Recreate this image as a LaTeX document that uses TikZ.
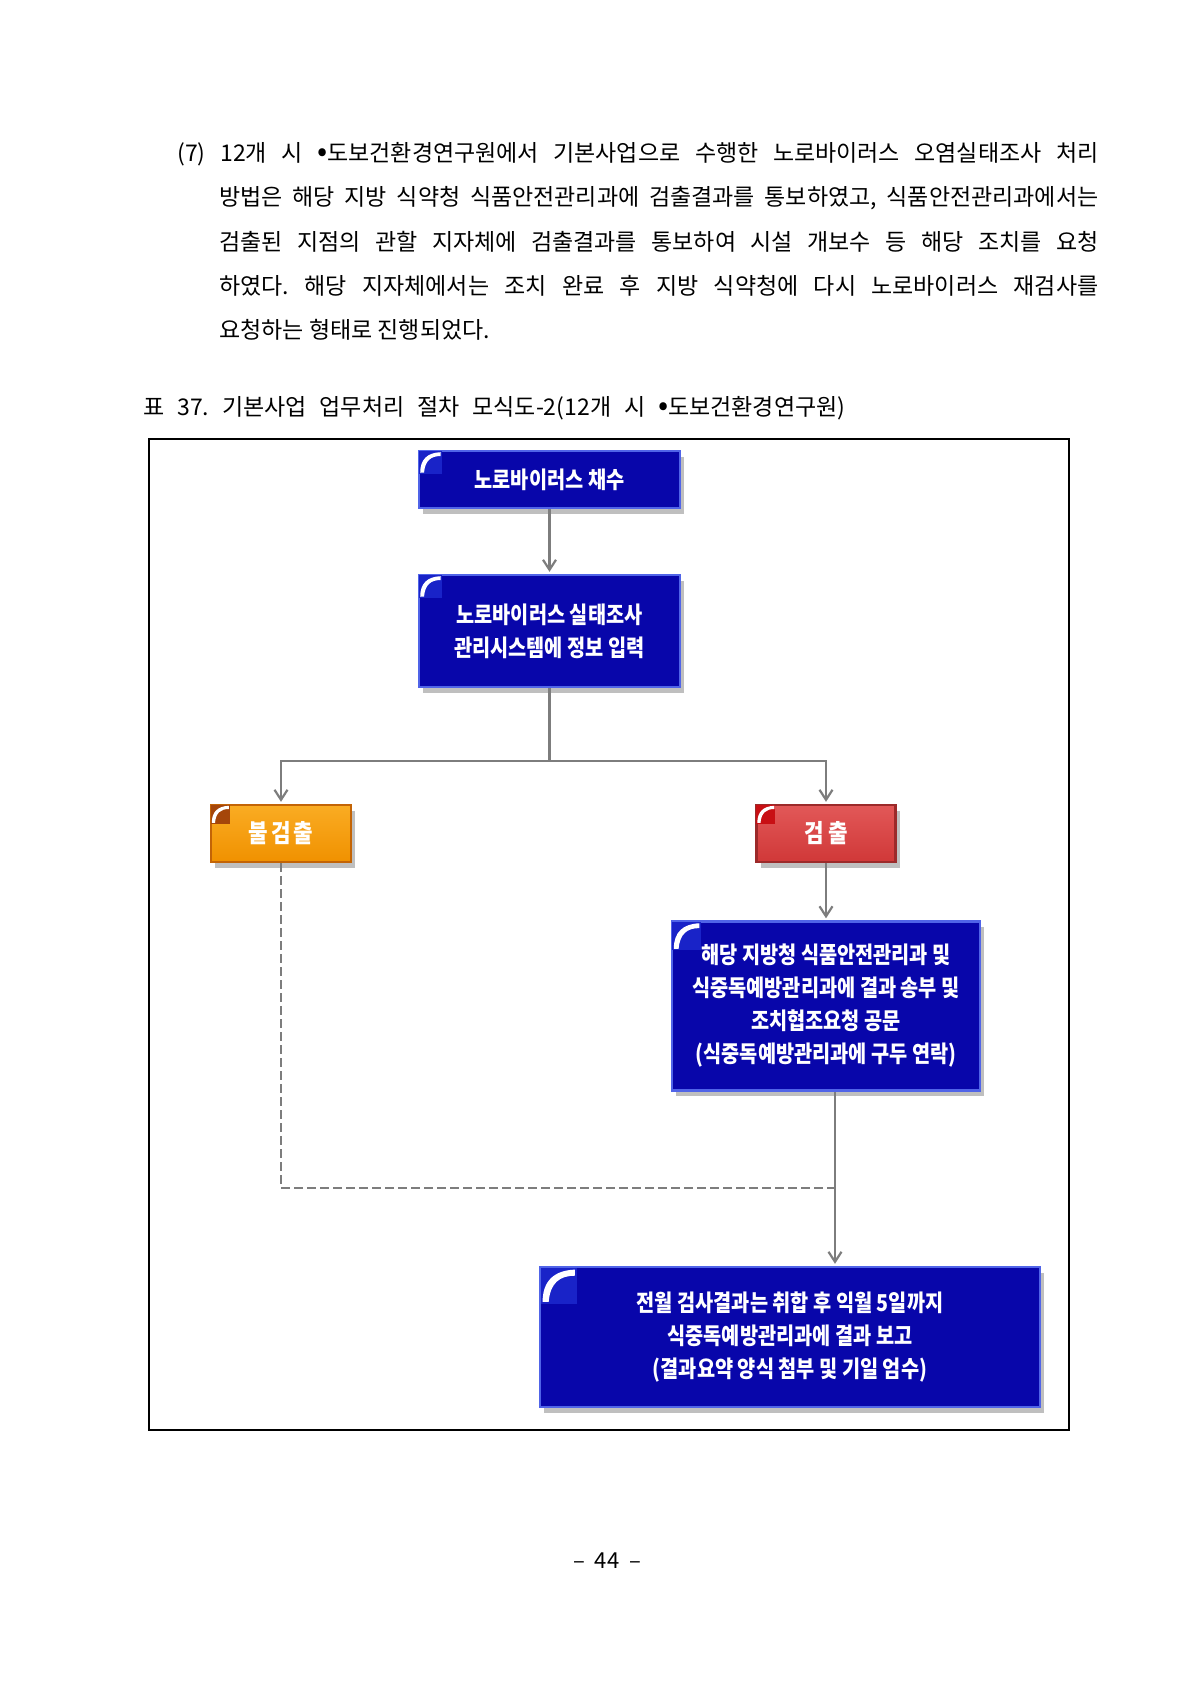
\documentclass[tikz,border=0pt]{standalone}
\usepackage{fontspec}
\setmainfont{Noto Sans CJK KR}
\newfontfamily\boxfont[FakeStretch=0.85]{Noto Sans CJK KR}
\usetikzlibrary{arrows.meta,shadows}
\frenchspacing
\definecolor{boxblue}{RGB}{8,6,170}
\definecolor{boxedge}{RGB}{80,100,232}
\definecolor{cornerblue}{RGB}{25,35,200}
\definecolor{boxorange}{RGB}{240,145,0}
\definecolor{lightorange}{RGB}{250,172,35}
\definecolor{cornerorange}{RGB}{165,70,10}
\definecolor{boxred}{RGB}{208,56,56}
\definecolor{lightred}{RGB}{226,88,88}
\definecolor{cornerred}{RGB}{200,15,20}
\definecolor{flowgray}{RGB}{125,125,125}
\newcommand\dotsep{\scalebox{1.3}{•}}
% corner highlight: node, colour, size in pt
\newcommand\cornermark[3]{%
    \begin{scope}[shift={(#1.north west)},x=#3pt,y=#3pt]
        \fill[#2] (0.05,-0.05) rectangle (1,-1);
        \fill[white] (0.1,-0.95) .. controls (0.1,-0.4) and (0.4,-0.12) .. (0.95,-0.1)
            -- (0.95,-0.26) .. controls (0.55,-0.26) and (0.3,-0.45) .. (0.26,-0.95) -- cycle;
    \end{scope}}
\tikzset{%
    stepbox/.style={%
        rectangle,
        draw,
        line width=1.2pt,
        text=white,
        align=center,
        inner sep=0pt,
        font=\boxfont\bfseries\fontsize{11.6}{16.5}\selectfont,
        drop shadow={shadow xshift=2pt,shadow yshift=-2.8pt,opacity=0.5}
    },
    bluebox/.style={%
        stepbox,
        fill=boxblue,
        draw=boxedge
    },
    orangebox/.style={%
        stepbox,
        top color=lightorange,
        bottom color=boxorange,
        draw=cornerorange!60!boxorange,
        font=\boxfont\bfseries\fontsize{12.5}{15}\selectfont
    },
    redbox/.style={%
        stepbox,
        top color=lightred,
        bottom color=boxred,
        draw=boxred!75!black,
        font=\boxfont\bfseries\fontsize{12.5}{15}\selectfont
    },
    flow/.style={%
        draw=flowgray,
        line width=1.1pt
    },
    flowarrow/.style={%
        flow,
        -{Straight Barb[length=5pt,width=6.5pt]},
        shorten >=1pt
    },
    dashflow/.style={%
        flow,
        line width=1.3pt,
        dash pattern=on 4.5pt off 2pt
    },
    bodyline/.style={%
        anchor=west,
        inner sep=0pt,
        font=\fontsize{11.5}{14}\selectfont
    }
}
\begin{document}
\begin{tikzpicture}[x=0.5pt,y=-0.5pt]
    \useasboundingbox[fill=white] (0,0) rectangle (1190,1684);
    % paragraph
    \node[bodyline] (par1) at (177,154) {\makebox[460.5pt][s]{(7) 12개 시 \dotsep 도보건환경연구원에서 기본사업으로 수행한 노로바이러스 오염실태조사 처리}};
    \node[bodyline] (par2) at (219,198) {\makebox[439.5pt][s]{방법은 해당 지방 식약청 식품안전관리과에 검출결과를 통보하였고, 식품안전관리과에서는}};
    \node[bodyline] (par3) at (219,242) {\makebox[439.5pt][s]{검출된 지점의 관할 지자체에 검출결과를 통보하여 시설 개보수 등 해당 조치를 요청}};
    \node[bodyline] (par4) at (219,286) {\makebox[439.5pt][s]{하였다. 해당 지자체에서는 조치 완료 후 지방 식약청에 다시 노로바이러스 재검사를}};
    \node[bodyline] (par5) at (219,330) {요청하는 형태로 진행되었다.};
    \node[bodyline] (caption) at (143,408) {\makebox[351pt][s]{표 37. 기본사업 업무처리 절차 모식도-2(12개 시 \dotsep 도보건환경연구원)}};
    % frame
    \draw[line width=0.7pt] (149,439) rectangle (1069,1430);
    % boxes
    \node[bluebox, minimum width=130.5pt, minimum height=28.5pt] (sample) at (549.5,479.5) {노로바이러스 채수};
    \node[bluebox, minimum width=130.5pt, minimum height=56pt] (input) at (549.5,631) {노로바이러스 실태조사\\관리시스템에 정보 입력};
    \node[orangebox, minimum width=70pt, minimum height=28.5pt] (nodetect) at (281,833.5) {불\hspace{1.5pt}검\hspace{1.5pt}출};
    \node[redbox, minimum width=69.5pt, minimum height=28.5pt] (detect) at (826,833.5) {검 출};
    \node[bluebox, minimum width=154pt, minimum height=84.5pt] (result) at (826,1006) {해당 지방청 식품안전관리과 및\\식중독예방관리과에 결과 송부 및\\조치협조요청 공문\\(식중독예방관리과에 구두 연락)};
    \node[bluebox, minimum width=250pt, minimum height=70pt] (report) at (790,1337) {전월 검사결과는 취합 후 익월 5일까지\\식중독예방관리과에 결과 보고\\(결과요약 양식 첨부 및 기일 엄수)};
    \cornermark{sample}{cornerblue}{12}
    \cornermark{input}{cornerblue}{12}
    \cornermark{nodetect}{cornerorange}{10}
    \cornermark{detect}{cornerred}{10}
    \cornermark{result}{cornerblue}{15}
    \cornermark{report}{cornerblue}{19}
    % connectors
    \coordinate (split) at (549.5,761);
    \coordinate (join) at (835,1188);
    \draw[flowarrow] (sample) -- (input);
    \draw[flow] (input) -- (split);
    \draw[flowarrow] (split) -| (nodetect.north);
    \draw[flowarrow] (split) -| (detect.north);
    \draw[flowarrow] (detect) -- (result);
    \draw[dashflow] (nodetect.south) |- (join);
    \draw[flowarrow] (result.south -| join) -- (report.north -| join);
    % page number
    \node[font=\fontsize{11}{13}\selectfont] (page) at (607,1561) {–\ \ 44\ \ –};
\end{tikzpicture}
\end{document}
